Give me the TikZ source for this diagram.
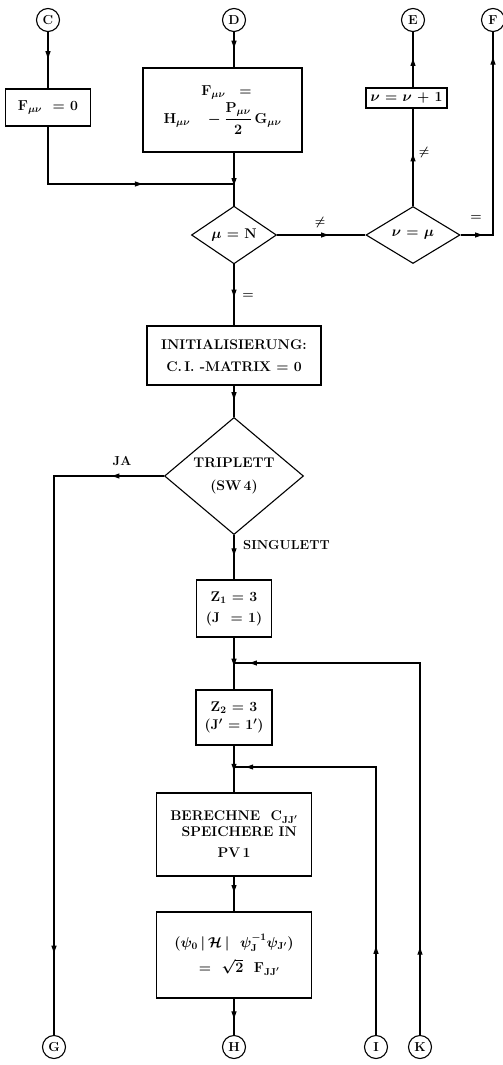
\documentclass[tikz,border=0pt]{standalone}
\usepackage{amsmath}
\usetikzlibrary{shapes.geometric,arrows.meta,decorations.markings}
\tikzset{
  conn/.style={line width=1.1pt},
  am/.style={postaction={decorate},decoration={markings,mark=at position #1 with {\arrow{Latex[length=9pt,width=5.5pt]}}}},
  amm/.style 2 args={postaction={decorate},decoration={markings,mark=at position #1 with {\arrow{Latex[length=9pt,width=5.5pt]}},mark=at position #2 with {\arrow{Latex[length=9pt,width=5.5pt]}}}},
  txt/.style={font=\fontsize{14}{16}\selectfont\bfseries\boldmath},
  box/.style={draw,line width=1.1pt,rectangle,inner sep=0pt,align=center,txt},
  dia/.style={draw,line width=1.1pt,diamond,inner sep=0pt,align=center,txt},
  conncirc/.style={draw,line width=1.1pt,circle,minimum size=23pt,inner sep=0pt,font=\fontsize{13}{14}\selectfont\bfseries},
  lbl/.style={font=\fontsize{13}{14}\selectfont\bfseries\boldmath,inner sep=1pt}
}
\begin{document}
\begin{tikzpicture}[x=1pt,y=-1pt]
\useasboundingbox (0,0) rectangle (503,1065);
% connectors (circles)
\node[conncirc] (C) at (48,20) {C};
\node[conncirc] (D) at (234,20) {D};
\node[conncirc] (E) at (413,20) {E};
\node[conncirc] (F) at (493,20) {F};
\node[conncirc] (G) at (54,1047) {G};
\node[conncirc] (H) at (234,1047) {H};
\node[conncirc] (I) at (376,1047) {I};
\node[conncirc] (K) at (420,1047) {K};
% boxes
\node[box,minimum width=85pt,minimum height=37pt] (f0) at (48,107.5) {$\mathbf{F}_{\mu\nu}$\ \ = 0};
\node[box,minimum width=159pt,minimum height=84pt] (fbig) at (222.5,110)
  {\hspace*{8pt}$\mathbf{F}_{\mu\nu}$\quad =\\[2pt] $\mathbf{H}_{\mu\nu}\quad-\dfrac{\mathbf{P}_{\mu\nu}}{\mathbf{2}}\,\mathbf{G}_{\mu\nu}$};
\node[box,minimum width=81pt,minimum height=20pt] (nu1) at (406.5,98) {$\nu$ = $\nu$ + 1};
\node[dia,minimum width=85pt,minimum height=49pt] (mueqN) at (234,235) {$\mu$ = N};
\node[dia,minimum width=94pt,minimum height=57pt] (nueqmu) at (413,235) {$\nu$ = $\mu$};
\node[box,minimum width=174pt,minimum height=59pt] (init) at (234,355.5) {INITIALISIERUNG:\\[6pt] C.\,I. -MATRIX = 0};
\node[dia,minimum width=139pt,minimum height=83pt] (trip) at (234,476) {TRIPLETT\\[7pt](SW\,4)};
\node[box,minimum width=75pt,minimum height=57pt] (z1) at (234,608.5) {Z$_{\mathbf 1}$ = 3\\[5pt](J\ \ = 1)};
\node[box,minimum width=76pt,minimum height=55pt] (z2) at (234,717.5) {Z$_{\mathbf 2}$ = 3\\[2pt](J$'$ = 1$'$)};
\node[box,minimum width=155pt,minimum height=83pt] (ber) at (234,834.5) {BERECHNE\ \ C$_{\mathbf{JJ}'}$\\[0pt]\ \ SPEICHERE IN\\[5pt] PV\,1};
\node[box,minimum width=155pt,minimum height=86pt] (psi) at (234,955)
  {$(\psi_{\mathbf 0}\,|\,\mathcal{H}\,|\ \ \psi_{\mathbf J}^{-\mathbf{1}}\psi_{\mathbf{J}'})$\\[7pt]\ \ = \ $\sqrt{\mathbf 2}$\ \ $\mathbf{F}_{\mathbf{JJ}'}$};
% junction coordinates
\coordinate (J1) at (234,184);
\coordinate (J2) at (234,663);
\coordinate (J3) at (234,767);
% connectors
\draw[conn,am=0.5] (C) -- (f0.north);
\draw[conn,am=0.5] (D) -- (D |- fbig.north);
\draw[conn,am=0.63] (f0.south) |- (J1);
\draw[conn,am=0.65] (fbig.south -| mueqN) -- (mueqN.north);
\draw[conn,am=0.6] (mueqN.east) -- (nueqmu.west);
\draw[conn,am=0.55] (nueqmu.north) -- (nueqmu.north |- nu1.south);
\draw[conn,am=0.55] (nueqmu.north |- nu1.north) -- (E);
\draw[conn,amm={0.1}{0.9}] (nueqmu.east) -| (F);
\draw[conn,am=0.56] (mueqN.south) -- (init.north);
\draw[conn,am=0.5] (init.south) -- (trip.north);
\draw[conn,amm={0.08}{0.88}] (trip.west) -| (G);
\draw[conn,am=0.5] (trip.south) -- (z1.north);
\draw[conn,am=0.58] (z1.south) -- (z2.north);
\draw[conn,amm={0.16}{0.975}] (K) |- (J2);
\draw[conn,am=0.58] (z2.south) -- (ber.north);
\draw[conn,amm={0.22}{0.975}] (I) |- (J3);
\draw[conn,am=0.5] (ber.south) -- (psi.north);
\draw[conn,am=0.6] (psi.south) -- (H);
% labels
\node[lbl] (lne1) at (320,222) {$\neq$};
\node[lbl] (lne2) at (424,152) {$\neq$};
\node[lbl] (leq1) at (476,218) {=};
\node[lbl] (leq2) at (248,296) {=};
\node[lbl] (lja) at (122,461) {JA};
\node[lbl,anchor=west] (lsing) at (242,545) {SINGULETT};
\end{tikzpicture}
\end{document}
